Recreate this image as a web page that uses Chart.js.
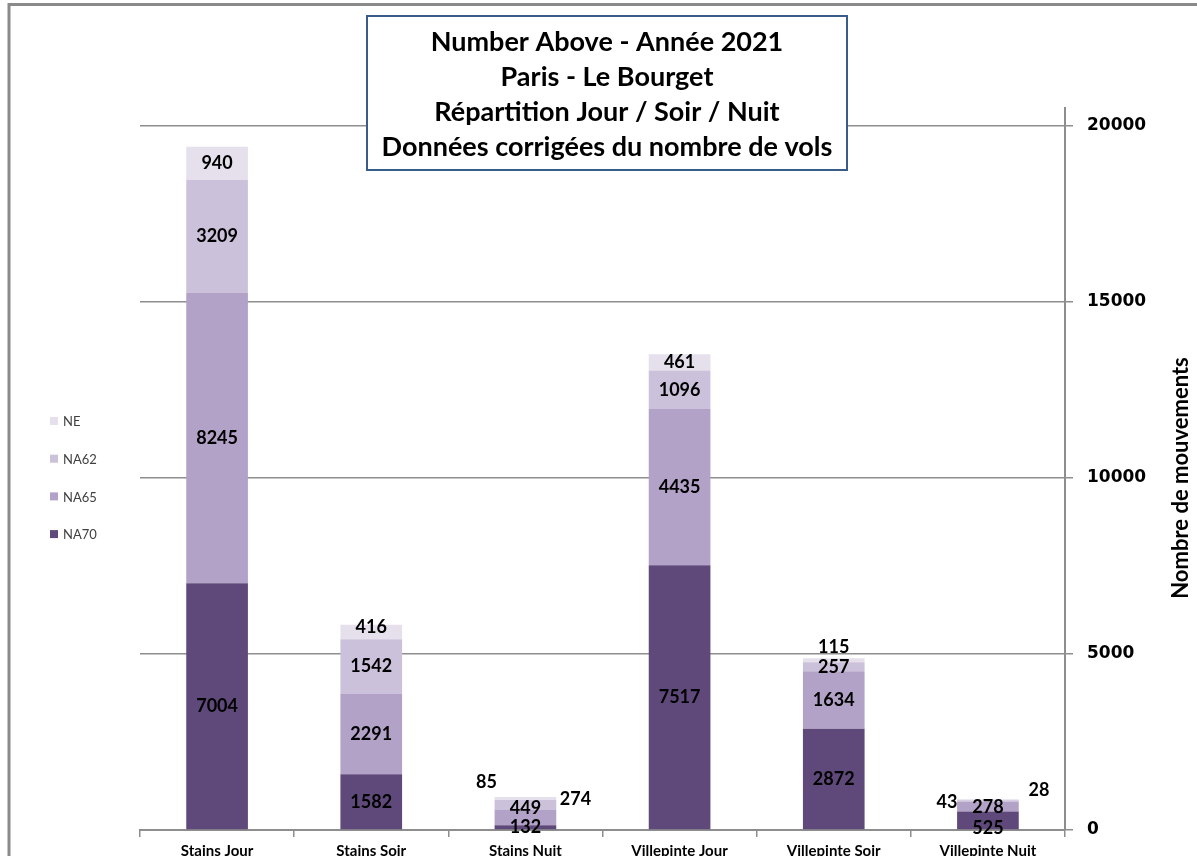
<!DOCTYPE html>
<html>
<head>
<meta charset="utf-8">
<script src="https://cdn.jsdelivr.net/npm/chart.js@4.4.0/dist/chart.umd.min.js"></script>
<style>
  html, body { margin: 0; padding: 0; background: #fff; overflow: hidden; }
  #wrap { width: 1197px; height: 856px; overflow: hidden; }
  canvas { display: block; }
</style>
</head>
<body>
<div id="wrap"><canvas id="c" width="1197" height="870"></canvas></div>
<script>
// ---- Data ----
const categories = ["Stains Jour", "Stains Soir", "Stains Nuit", "Villepinte Jour", "Villepinte Soir", "Villepinte Nuit"];
const NA70 = [7004, 1582, 132, 7517, 2872, 525];
const NA65 = [8245, 2291, 449, 4435, 1634, 278];
const NA62 = [3209, 1542, 274, 1096, 257, 43];
const NE   = [940, 416, 85, 461, 115, 28];
const yTicks = [0, 5000, 10000, 15000, 20000];
const titleLines = ["Number Above - Année 2021", "Paris - Le Bourget", "Répartition Jour / Soir / Nuit", "Données corrigées du nombre de vols"];
const yTitle = "Nombre de mouvements";

// ---- Styles ----
const colors = { NA70: "#5f497a", NA65: "#b3a2c7", NA62: "#ccc1da", NE: "#e5e0ec" };
const gridColor = "#8e8e8e";
const labelFont = "bold 18px Lato";
// label offsets (dx, dy) keyed by datasetIndex-dataIndex, for small segments
const labelOffsets = {
  "1-2": [0, -9], "2-2": [50, -6], "3-2": [-39, -16],
  "0-5": [0, 8], "1-5": [0, 1], "2-5": [-41, 1], "3-5": [51, -10],
  "3-4": [0, -13], "3-1": [0, -5]
};

const framePlugin = {
  id: "frame",
  beforeDraw(chart) {
    const ctx = chart.ctx;
    ctx.save();
    ctx.fillStyle = "#fff";
    ctx.fillRect(0, 0, chart.width, chart.height);
    ctx.strokeStyle = "#8a8a8a";
    ctx.lineWidth = 3;
    ctx.beginPath();
    ctx.moveTo(9, chart.height);
    ctx.lineTo(9, 4.5);
    ctx.lineTo(chart.width, 4.5);
    ctx.stroke();
    ctx.restore();
  }
};

const labelsPlugin = {
  id: "segLabels",
  afterDatasetsDraw(chart) {
    const ctx = chart.ctx;
    ctx.save();
    ctx.font = labelFont;
    ctx.fillStyle = "#000";
    ctx.textAlign = "center";
    ctx.textBaseline = "middle";
    chart.data.datasets.forEach((ds, di) => {
      const meta = chart.getDatasetMeta(di);
      meta.data.forEach((el, i) => {
        const off = labelOffsets[di + "-" + i] || [0, 0];
        const x = el.x + off[0];
        const y = (el.y + el.base) / 2 + off[1];
        ctx.fillText(String(ds.data[i]), x, y);
      });
    });
    ctx.restore();
  }
};

const overlayPlugin = {
  id: "overlay",
  afterDraw(chart) {
    const ctx = chart.ctx;
    ctx.save();
    // Title box
    ctx.fillStyle = "#fff";
    ctx.fillRect(367, 16, 480, 154);
    ctx.strokeStyle = "#385d8a";
    ctx.lineWidth = 2;
    ctx.strokeRect(367, 16, 480, 154);
    ctx.fillStyle = "#000";
    ctx.font = "bold 27px Lato";
    ctx.textAlign = "center";
    ctx.textBaseline = "middle";
    titleLines.forEach((t, i) => ctx.fillText(t, 607, 42 + i * 35));
    // Legend (reverse order)
    const ds = chart.data.datasets.slice().reverse();
    ctx.font = "13px Lato";
    ctx.textAlign = "left";
    ds.forEach((d, i) => {
      const y = 421 + i * 37.7;
      ctx.fillStyle = d.backgroundColor;
      ctx.fillRect(50, y - 4, 8, 8);
      ctx.fillStyle = "#404040";
      ctx.fillText(d.label, 63, y + 1);
    });
    // Y axis title (rotated, reading upward)
    ctx.translate(1181, 478);
    ctx.rotate(-Math.PI / 2);
    ctx.textAlign = "center";
    ctx.fillStyle = "#000";
    ctx.font = "bold 22px Lato";
    ctx.fillText(yTitle, 0, 0);
    ctx.restore();
  }
};

new Chart(document.getElementById("c"), {
  type: "bar",
  data: {
    labels: categories,
    datasets: [
      { label: "NA70", data: NA70, backgroundColor: colors.NA70 },
      { label: "NA65", data: NA65, backgroundColor: colors.NA65 },
      { label: "NA62", data: NA62, backgroundColor: colors.NA62 },
      { label: "NE",   data: NE,   backgroundColor: colors.NE }
    ]
  },
  options: {
    responsive: false,
    animation: false,
    devicePixelRatio: 1,
    layout: { padding: { top: 108, left: 140, right: 0, bottom: 0 } },
    datasets: { bar: { categoryPercentage: 1.0, barPercentage: 0.4 } },
    plugins: { legend: { display: false }, tooltip: { enabled: false }, title: { display: false } },
    scales: {
      x: {
        stacked: true,
        grid: { display: true, drawOnChartArea: false, drawTicks: true, tickLength: 7, color: gridColor, lineWidth: 1.5, offset: true },
        border: { display: true, color: gridColor, width: 2 },
        ticks: { color: "#000", font: { family: "Lato", weight: "bold", size: 15 }, padding: 5, maxRotation: 0 },
        afterFit(scale) { scale.height = 40; }
      },
      y: {
        stacked: true,
        position: "right",
        min: 0,
        max: 20500,
        afterBuildTicks(scale) { scale.ticks = yTicks.map(v => ({ value: v })); },
        grid: { color: gridColor, lineWidth: 1.5, tickLength: 8, drawTicks: true },
        border: { display: true, color: gridColor, width: 2 },
        ticks: { color: "#000", font: { family: "DejaVu Sans", weight: "bold", size: 17 }, padding: 14, callback: v => String(v) },
        afterFit(scale) { scale.width = 132; }
      }
    }
  },
  plugins: [framePlugin, labelsPlugin, overlayPlugin]
});
</script>
</body>
</html>
